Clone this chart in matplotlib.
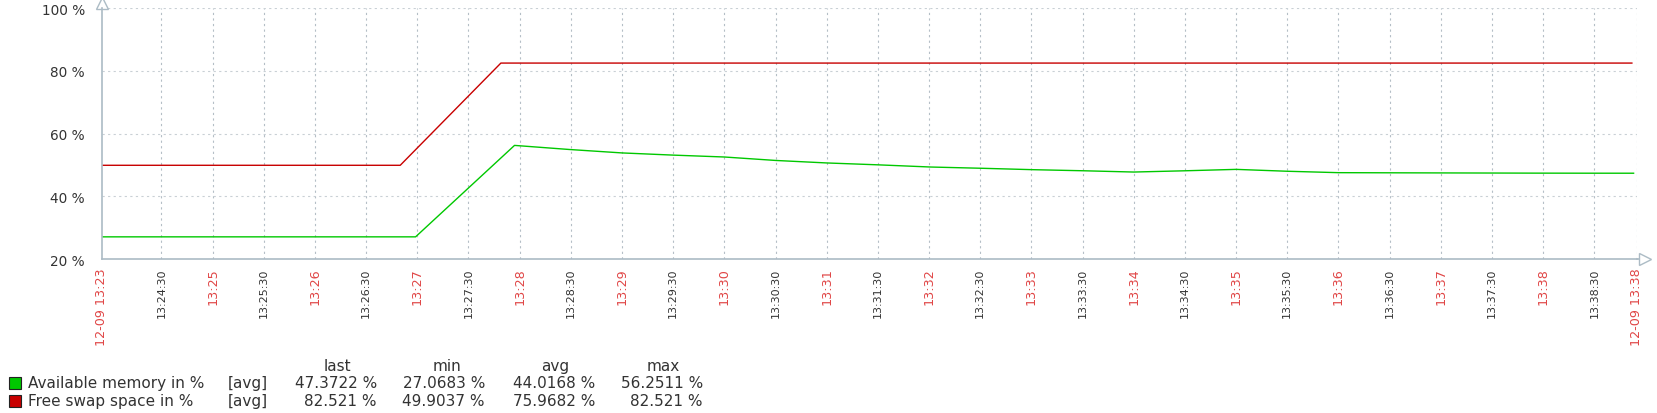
import matplotlib
matplotlib.use('Agg')
from matplotlib import pyplot as plt
from matplotlib.patches import Rectangle

# time axis: seconds after 12-09 13:23:55, graph spans 15 minutes
t_span = 900
start_label = '12-09 13:23'
end_label = '12-09 13:38'

# Available memory in %
mem_t = [0, 184, 242, 274, 305, 335, 365, 395, 425, 455, 486, 516, 546, 576,
         605, 635, 665, 695, 725, 760, 800, 840, 870, 898]
mem_v = [27.0683, 27.0683, 56.2511, 54.95, 53.85, 53.15, 52.55, 51.45, 50.65, 50.05,
         49.35, 48.95, 48.5, 48.15, 47.75, 48.15, 48.6, 48.0, 47.55, 47.5,
         47.45, 47.4, 47.38, 47.3722]

# Free swap space in %
swap_t = [0, 175, 234, 897]
swap_v = [49.9037, 49.9037, 82.521, 82.521]

# half-minute ticks from 13:24:30 to 13:38:30
tick_t = [35 + 30 * i for i in range(29)]
tick_lab = []
for i in range(29):
    m = 24 + (i + 1) // 2
    tick_lab.append('13:%02d' % m if i % 2 == 1 else '13:%02d:30' % m)

y_ticks = [20, 40, 60, 80, 100]

legend_names = ['Available memory in %', 'Free swap space in %']
legend_cols = ['last', 'min', 'avg', 'max']
legend_vals = [['47.3722 %', '27.0683 %', '44.0168 %', '56.2511 %'],
               ['82.521 %', '49.9037 %', '75.9682 %', '82.521 %']]
colors = ['#00c800', '#c80000']

red_txt = '#e04646'
dark_txt = '#333333'
axis_col = '#acbbc5'

fig = plt.figure(figsize=(16.57, 4.14), dpi=100)
ax = fig.add_axes([101.7 / 1657, 1 - 260 / 414, (1637 - 101.7) / 1657, (260 - 9.3) / 414])

ax.plot(swap_t, swap_v, color=colors[1], lw=1.0)
ax.plot(mem_t, mem_v, color=colors[0], lw=1.0)

ax.set_xlim(0, t_span)
ax.set_ylim(20, 100)

# grid
for t in tick_t + [t_span]:
    ax.axvline(t, color='#b4bec6', lw=0.8, ls=(0, (2, 3)), zorder=0)
for y in y_ticks[1:]:
    ax.axhline(y, color='#c9d0d5', lw=0.8, ls=(0, (2, 3)), zorder=0)

for s in ['top', 'right']:
    ax.spines[s].set_visible(False)
for s in ['left', 'bottom']:
    ax.spines[s].set_color(axis_col)
    ax.spines[s].set_linewidth(1.2)

# arrow heads
ax.plot([0, 0], [1, 1.012], transform=ax.transAxes, color=axis_col, lw=1.2, clip_on=False)
ax.plot([0], [1.022], transform=ax.transAxes, marker='^', ms=8, mfc='white',
        mec=axis_col, mew=1.0, clip_on=False)
ax.plot([1, 1.003], [0, 0], transform=ax.transAxes, color=axis_col, lw=1.2, clip_on=False)
ax.plot([1.0055], [0], transform=ax.transAxes, marker='>', ms=8, mfc='white',
        mec=axis_col, mew=1.0, clip_on=False)

ax.set_yticks(y_ticks)
ax.set_yticklabels(['%d %%' % v for v in y_ticks])
ax.tick_params(axis='y', length=0, pad=12, labelsize=9.8, labelcolor=dark_txt)

xt = [0] + tick_t + [t_span]
xl = [start_label] + tick_lab + [end_label]
ax.set_xticks(xt)
ax.set_xticklabels(xl, rotation=90, va='top', ha='center')
ax.tick_params(axis='x', length=0, pad=6)
for lab in ax.get_xticklabels():
    txt = lab.get_text()
    if txt.count(':') == 2:
        lab.set_color(dark_txt)
        lab.set_fontsize(8)
    else:
        lab.set_color(red_txt)
        lab.set_fontsize(9.2)

# legend table below the graph
def fx(px):
    return px / 1657

def fy(py):
    return 1 - py / 414

col_c = [337, 447, 555, 663]
col_r = [377, 485, 595, 703]
fs = 11
for c, name in zip(col_c, legend_cols):
    fig.text(fx(c), fy(366.7), name, ha='center', va='center', fontsize=fs, color=dark_txt)
rows_y = [383.6, 401.6]
for i in range(2):
    y = rows_y[i]
    fig.add_artist(Rectangle((fx(8.5), fy(y + 6)), 12 / 1657, 12 / 414,
                             transform=fig.transFigure, facecolor=colors[i],
                             edgecolor='#222222', lw=0.8))
    fig.text(fx(27.5), fy(y), legend_names[i], ha='left', va='center', fontsize=fs, color=dark_txt)
    fig.text(fx(228), fy(y), '[avg]', ha='left', va='center', fontsize=fs, color=dark_txt)
    for r, v in zip(col_r, legend_vals[i]):
        fig.text(fx(r), fy(y), v, ha='right', va='center', fontsize=fs, color=dark_txt)

fig.savefig('out.png', dpi=100, facecolor='white')
